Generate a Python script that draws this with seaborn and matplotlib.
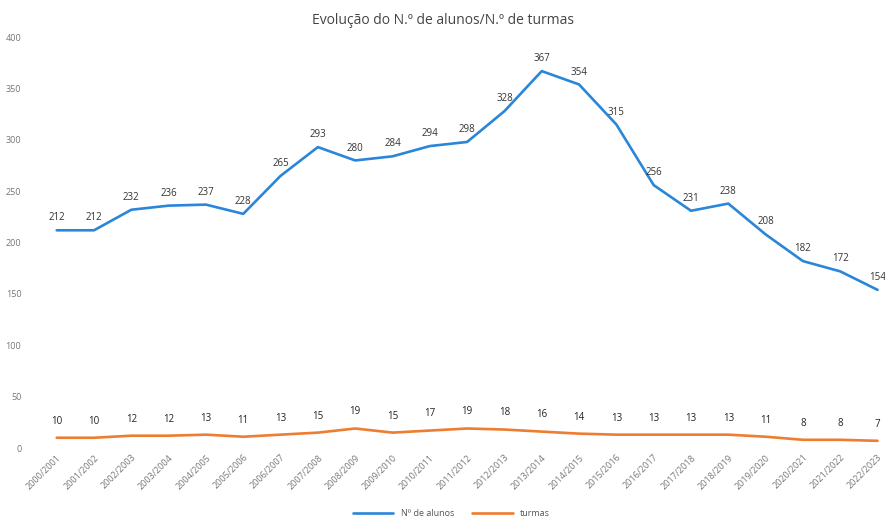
import pandas as pd
import seaborn as sns
import matplotlib.pyplot as plt

anos = ["2000/2001", "2001/2002", "2002/2003", "2003/2004", "2004/2005", "2005/2006",
        "2006/2007", "2007/2008", "2008/2009", "2009/2010", "2010/2011", "2011/2012",
        "2012/2013", "2013/2014", "2014/2015", "2015/2016", "2016/2017", "2017/2018",
        "2018/2019", "2019/2020", "2020/2021", "2021/2022", "2022/2023"]
alunos = [212, 212, 232, 236, 237, 228, 265, 293, 280, 284, 294, 298,
          328, 367, 354, 315, 256, 231, 238, 208, 182, 172, 154]
turmas = [10, 10, 12, 12, 13, 11, 13, 15, 19, 15, 17, 19,
          18, 16, 14, 13, 13, 13, 13, 11, 8, 8, 7]

df = pd.DataFrame({"pos": range(len(anos)), "ano": anos, "alunos": alunos, "turmas": turmas})

sns.set_theme(style="white")
plt.rcParams['font.family'] = ['Open Sans', 'DejaVu Sans']

fig = plt.figure(figsize=(8.85, 5.24), dpi=100)
ax = fig.add_axes([0.043, 0.145, 0.957, 0.784])

azul = "#2a86d8"
laranja = "#ed7d31"
sns.lineplot(data=df, x="pos", y="alunos", ax=ax, color=azul, linewidth=1.9, label="Nº de alunos")
sns.lineplot(data=df, x="pos", y="turmas", ax=ax, color=laranja, linewidth=1.9, label="turmas")

# rótulos de dados
for i, v in enumerate(alunos):
    ax.annotate(str(v), (i, v), xytext=(0, 5), textcoords="offset points",
                ha="center", va="bottom", fontsize=7, color="#333333")
for i, v in enumerate(turmas):
    ax.annotate(str(v), (i, v), xytext=(0, 8), textcoords="offset points",
                ha="center", va="bottom", fontsize=7, color="#222222")

ax.set_xlim(-0.5, 22.2)
ax.set_ylim(0, 400)
ax.set_yticks(range(0, 401, 50))
ax.set_xticks(range(len(anos)))
ax.set_xticklabels(anos, rotation=45, ha="right", rotation_mode="anchor")
ax.tick_params(axis="both", labelsize=6.5, colors="#777777", length=0)
ax.tick_params(axis="y", pad=12)
ax.set_xlabel("")
ax.set_ylabel("")
for s in ax.spines.values():
    s.set_visible(False)

ax.get_legend().remove()
h, l = ax.get_legend_handles_labels()
fig.legend(h, l, loc="lower center", ncol=2, frameon=False, fontsize=6.5,
           bbox_to_anchor=(0.51, -0.005), labelcolor="#555555", handlelength=4.5)

fig.suptitle("Evolução do N.º de alunos/N.º de turmas", fontsize=10, color="#444444", y=0.975)

fig.savefig("out.png", dpi=100)
